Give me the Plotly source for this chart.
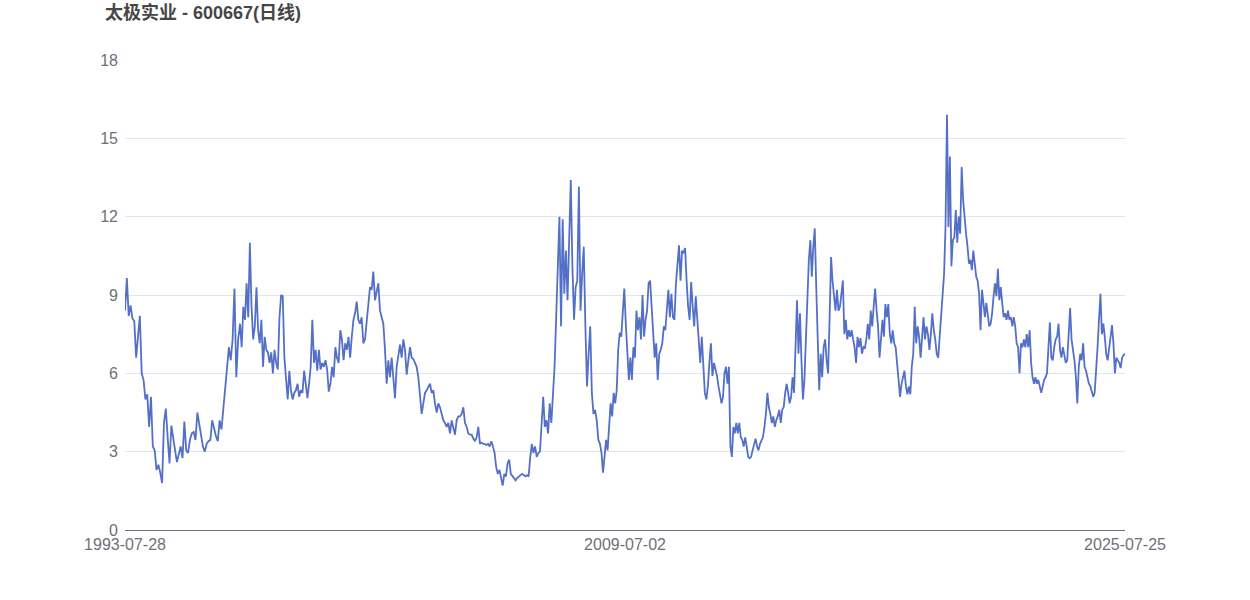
import pandas as pd
import plotly.graph_objects as go

title_text = "太极实业 - 600667(日线)"
end_date = "2025-07-25"
tick_labels = ["1993-07-28", "2009-07-02", "2025-07-25"]
y_ticks = [0, 3, 6, 9, 12, 15, 18]

# approximate dates at which each read-off stretch of the curve begins
segment_starts = ["1993-07-28", "1997-04-02", "2001-02-02", "2004-12-05",
                  "2008-10-07", "2012-08-10", "2016-06-11", "2020-07-28"]

seg_1993 = [8.4, 9.65, 8.2, 8.6, 8.1, 8.0, 6.6, 7.5, 8.2, 6.0, 5.75, 5.0, 5.2, 3.95, 5.1, 3.2,
            3.05, 2.3, 2.5, 2.2, 1.8, 4.1, 4.65, 3.55, 2.55, 4.0, 3.45, 3.05, 2.6, 2.95, 3.2, 2.75,
            4.15, 3.05, 2.95, 3.45, 3.7, 3.75, 3.45, 4.5, 4.1, 3.55, 3.2, 3.0, 3.3, 3.4, 3.45, 4.2,
            3.85, 3.6, 3.4, 4.2, 3.85, 4.6, 5.5, 6.4, 7.0, 6.5, 7.3, 9.25, 5.85, 7.3]
seg_1997 = [7.9, 7.0, 8.55, 8.05, 9.45, 8.15, 11.0, 8.55, 7.3, 7.8, 9.3, 7.65, 7.15, 8.05, 6.25,
            7.4, 6.9, 6.8, 6.4, 6.8, 6.0, 6.9, 6.4, 6.15, 8.15, 9.0, 8.95, 6.6, 5.75, 5.0, 6.1,
            5.35, 5.0, 5.25, 5.35, 5.6, 5.1, 5.35, 5.25, 6.1, 5.6, 5.05, 5.6, 6.25, 8.05, 6.4, 6.9,
            6.1, 6.9, 6.15, 6.4, 6.25, 6.5, 6.15, 5.3, 5.6, 6.25, 5.85, 7.0, 6.6, 6.4, 7.65, 7.3,
            6.5, 7.15, 6.9, 7.4, 6.6, 7.4, 8.05, 8.3, 8.75, 8.05]
seg_2001 = [7.9, 8.15, 7.15, 7.3, 8.05, 8.7, 9.3, 9.2, 9.9, 8.8, 9.2, 9.45, 8.4, 8.15, 7.9, 6.9,
            5.6, 6.5, 5.85, 6.6, 5.85, 5.05, 6.25, 6.6, 7.1, 6.6, 7.3, 6.9, 5.95, 6.5, 7.0, 6.6,
            6.55, 6.4, 6.25, 5.85, 5.2, 4.45, 4.85, 5.25, 5.35, 5.5, 5.6, 5.25, 5.35, 4.85, 4.5,
            4.85, 4.7, 4.45, 4.2, 4.1, 3.95, 4.1, 3.7, 4.2, 3.9, 3.65, 4.2, 4.35, 4.35, 4.45, 4.7,
            4.1, 3.95, 3.7, 3.65, 3.65, 3.5, 3.4, 3.55, 3.95]
seg_2005 = [3.3, 3.35, 3.3, 3.3, 3.25, 3.3, 3.2, 3.4, 3.2, 2.95, 2.4, 2.15, 2.3, 2.05, 1.7, 2.15,
            2.05, 2.55, 2.7, 2.15, 2.05, 2.0, 1.9, 2.0, 2.05, 2.1, 2.15, 2.1, 2.05, 2.1, 2.05, 2.8,
            3.3, 2.95, 3.2, 2.8, 2.95, 3.0, 4.35, 5.1, 3.95, 4.2, 3.7, 4.85, 4.1, 5.35,
            6.25, 8.15, 10.45, 12.0, 7.8, 11.9, 9.05, 10.7, 8.8, 11.2, 13.4, 10.1, 8.05, 9.3, 9.55,
            13.15, 8.4, 9.8, 10.85, 7.8, 5.5, 6.75, 7.8, 5.25, 4.45, 4.6, 4.2, 3.45]
seg_2009 = [3.3, 2.95, 2.2, 2.8, 3.45, 3.05, 3.85, 4.85, 4.35, 5.25, 4.85, 5.35, 6.9, 7.55, 7.4,
            8.3, 9.25, 7.9, 6.75, 5.75, 6.6, 5.75, 7.0, 6.6, 8.4, 7.65, 8.15, 7.3, 9.0, 7.4, 8.05,
            8.4, 9.45, 9.55, 8.55, 7.4, 6.6, 7.15, 5.75, 6.75, 6.9, 7.15, 7.8, 7.65, 8.3, 9.2, 8.15,
            9.05, 8.15, 8.05, 9.45, 10.1, 10.9, 9.55, 10.7, 10.6, 10.8, 9.55, 8.55, 8.05, 9.5, 8.55,
            7.8, 8.95, 8.05, 7.15, 6.4, 7.4, 6.4, 5.25, 5.0, 5.5, 6.4, 7.15, 5.9, 6.4, 6.15, 5.9, 5.5]
seg_2013 = [5.1, 4.85, 5.1, 6.0, 6.25, 5.6, 6.25, 3.2, 2.8, 3.95, 3.7, 4.1, 3.7, 4.1, 3.55, 3.45,
            3.2, 3.55, 3.2, 2.8, 2.75, 2.8, 3.05, 3.3, 3.5, 3.2, 3.05, 3.3, 3.4, 3.55, 3.95, 4.45,
            5.25, 4.7, 4.45, 4.1, 4.35, 3.95, 4.2, 4.35, 4.6, 4.1, 4.6, 4.7, 5.25, 5.6, 5.25, 4.85,
            5.1, 5.85, 5.25, 7.3, 8.8, 6.75, 8.3, 6.5, 5.0, 5.75, 7.4, 8.55, 10.35, 11.1, 9.7, 10.85,
            11.55, 9.3, 7.0, 5.35, 6.75, 5.85, 7.0, 7.3, 6.5, 6.0, 8.05, 10.45, 9.55, 9.05, 8.4, 9.2,
            8.4]
seg_2017 = [8.55, 8.95, 9.55, 7.5, 8.05, 7.3, 7.65, 7.4, 7.65, 7.3, 7.0, 6.4, 7.4, 7.0, 7.35, 6.75,
            7.0, 6.95, 7.3, 7.9, 7.3, 8.4, 7.8, 8.55, 9.25, 8.4, 7.8, 6.6, 7.5, 8.05, 7.4, 8.65, 8.15,
            8.65, 7.5, 7.15, 7.65, 7.15, 7.0, 6.25, 5.6, 5.1, 5.6, 5.85, 6.1, 5.5, 5.2, 5.5, 5.2,
            6.25, 6.75, 8.55, 7.15, 7.8, 7.4, 6.6, 7.5, 8.15, 7.3, 7.8, 7.5, 6.9, 7.5, 8.3, 7.65,
            7.3, 6.75, 6.6, 7.4, 8.3, 8.8, 9.8, 11.6, 15.9, 11.6, 14.3, 10.1, 11.1, 11.2, 12.25,
            11.0, 12.0, 11.35, 13.9, 12.65, 11.9, 11.35, 10.85]
seg_2021 = [10.2, 10.35, 9.95, 10.7, 10.2, 9.7, 9.55, 9.05, 7.65, 9.2, 8.7, 8.15, 8.7, 8.3, 7.8,
            7.9, 8.3, 8.95, 9.45, 8.95, 10.0, 8.8, 9.3, 8.7, 8.15, 8.3, 8.05, 8.4, 8.05, 8.15, 7.8,
            8.15, 7.8, 7.15, 7.0, 6.0, 7.15, 7.0, 7.3, 7.0, 7.5, 7.0, 7.65, 6.4, 5.85, 5.6, 5.85,
            5.6, 5.75, 5.5, 5.25, 5.5, 5.75, 5.85, 6.0, 7.0, 7.95, 6.6, 6.5, 7.0, 7.3, 7.4, 7.9,
            6.9, 6.6, 7.0, 6.75, 6.4, 6.5, 7.3, 8.5, 7.3, 6.9, 6.5, 5.85, 4.85, 6.25, 6.75, 6.5,
            7.15, 6.25, 6.1, 5.85, 5.6, 5.5, 5.25, 5.1, 5.25, 6.0, 7.0, 8.05, 9.05, 7.5, 7.9, 7.4,
            6.75, 6.5, 7.0, 7.4, 7.85, 7.15, 6.0, 6.6, 6.5, 6.4, 6.2, 6.6, 6.7, 6.75]

segments = [seg_1993, seg_1997, seg_2001, seg_2005, seg_2009, seg_2013, seg_2017, seg_2021]

dates = []
close_values = []
bounds = segment_starts + [end_date]
for i, seg in enumerate(segments):
    last = i == len(segments) - 1
    rng = pd.date_range(bounds[i], bounds[i + 1], periods=len(seg) + (0 if last else 1))
    if not last:
        rng = rng[:-1]
    dates.extend(rng)
    close_values.extend(seg)

# the reference axis labels the first, middle and last trading day (evenly spaced)
x_start = pd.Timestamp(segment_starts[0])
x_end = pd.Timestamp(end_date)
tick_positions = [x_start, x_start + (x_end - x_start) / 2, x_end]

font_family = "Liberation Sans, Arial, Noto Sans CJK SC, sans-serif"

W, H = 1250, 600
fig = go.Figure()
fig.add_trace(go.Scatter(
    x=dates, y=close_values, mode="lines",
    line=dict(color="#5470C6", width=1.8),
    hoverinfo="x+y", showlegend=False,
))

fig.update_layout(
    width=W, height=H,
    margin=dict(l=125, r=125, t=60, b=70),
    paper_bgcolor="white", plot_bgcolor="white",
    font=dict(family=font_family, color="#6E7079", size=16),
    title=dict(
        text="<b>" + title_text + "</b>",
        x=105 / W, xref="container", xanchor="left",
        y=1 - 13 / H, yref="container", yanchor="middle",
        font=dict(family="Liberation Sans, Noto Sans CJK SC, sans-serif", size=18, color="#464646"),
    ),
)
fig.update_xaxes(
    type="date",
    range=[x_start, x_end],
    tickvals=tick_positions, ticktext=tick_labels,
    showgrid=False, showline=True, linecolor="#6E7079", linewidth=1,
    ticks="", zeroline=False,
    tickfont=dict(size=16, color="#6E7079"),
)
fig.update_yaxes(
    range=[0, 18], tickvals=y_ticks,
    showgrid=True, gridcolor="#E0E6F1", gridwidth=1,
    zeroline=False, showline=False, ticks="", ticklabelstandoff=6,
    tickfont=dict(size=16, color="#6E7079"),
)

fig.write_html(
    "out.html",
    config={"displayModeBar": False},
    post_script="document.body.style.margin='0';document.body.style.overflow='hidden';",
)
